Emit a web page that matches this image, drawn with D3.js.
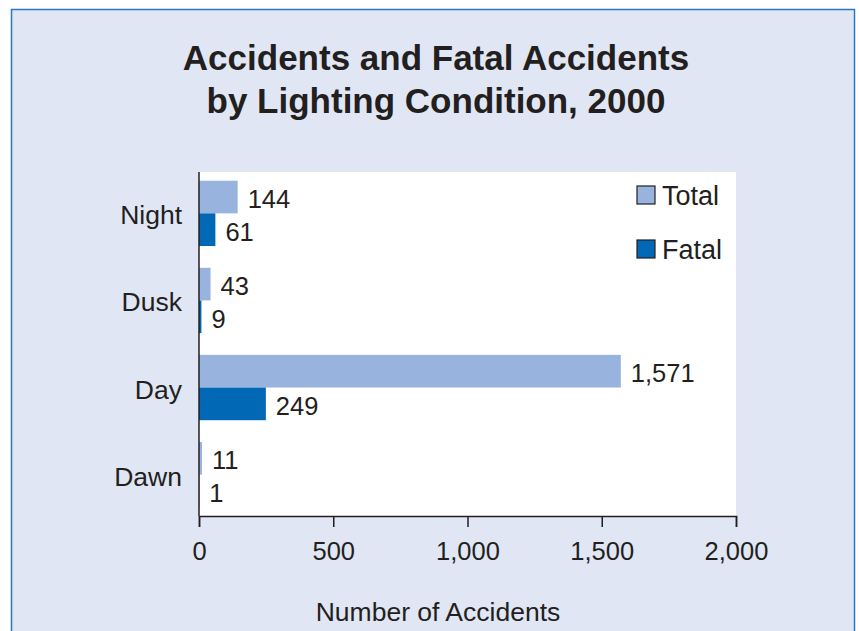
<!DOCTYPE html>
<html>
<head>
<meta charset="utf-8">
<script src="https://cdn.jsdelivr.net/npm/d3@7"></script>
<style>
  body { margin: 0; background: #fff; }
  text { font-family: "Liberation Sans", Arial, sans-serif; fill: #231f20; }
</style>
</head>
<body>
<div id="chart"></div>
<script>
// data
const categories = ["Night", "Dusk", "Day", "Dawn"];
const totalValues = [144, 43, 1571, 11];
const fatalValues = [61, 9, 249, 1];
const seriesNames = ["Total", "Fatal"];
const xTicks = [0, 500, 1000, 1500, 2000];

const width = 859,
  height = 631,
  margin = { top: 172, bottom: 115, left: 199, right: 123 },
  colors = { Total: "#98b3de", Fatal: "#0068b5" };

const svg = d3.select("#chart")
  .append("svg")
  .attr("width", width)
  .attr("height", height);

// background panel
svg.append("rect")
  .attr("x", 11.5)
  .attr("y", 9.5)
  .attr("width", 843)
  .attr("height", 640)
  .attr("fill", "#e1e6f4")
  .attr("stroke", "#2a78c0")
  .attr("stroke-width", 1.5);

// title
svg.append("text")
  .attr("x", 436)
  .attr("y", 70)
  .attr("text-anchor", "middle")
  .attr("font-weight", "bold")
  .attr("font-size", 35)
  .text("Accidents and Fatal Accidents");
svg.append("text")
  .attr("x", 436)
  .attr("y", 113)
  .attr("text-anchor", "middle")
  .attr("font-weight", "bold")
  .attr("font-size", 35)
  .text("by Lighting Condition, 2000");

// plot area
svg.append("rect")
  .attr("x", margin.left)
  .attr("y", margin.top)
  .attr("width", width - margin.left - margin.right)
  .attr("height", height - margin.top - margin.bottom)
  .attr("fill", "#fff");

const xScale = d3.scaleLinear()
  .domain([0, 2000])
  .range([margin.left, width - margin.right]);

const yScale = d3.scaleBand()
  .domain(categories)
  .range([margin.top, height - margin.bottom])
  .paddingInner(0.25)
  .paddingOuter(0.1);

const subScale = d3.scaleBand()
  .domain(seriesNames)
  .range([0, yScale.bandwidth()]);

const data = categories.map((c, i) => ({
  cat: c,
  values: [
    { key: "Total", value: totalValues[i] },
    { key: "Fatal", value: fatalValues[i] }
  ]
}));

const groups = svg.selectAll("g.group")
  .data(data)
  .join("g")
  .attr("class", "group")
  .attr("transform", d => `translate(0,${yScale(d.cat)})`);

groups.selectAll("rect")
  .data(d => d.values)
  .join("rect")
  .attr("x", xScale(0))
  .attr("y", d => subScale(d.key))
  .attr("width", d => xScale(d.value) - xScale(0))
  .attr("height", subScale.bandwidth())
  .attr("fill", d => colors[d.key]);

groups.selectAll("text.val")
  .data(d => d.values)
  .join("text")
  .attr("class", "val")
  .attr("x", d => xScale(d.value) + 10)
  .attr("y", d => subScale(d.key) + subScale.bandwidth() / 2 + 11)
  .attr("font-size", 25.5)
  .text(d => d3.format(",")(d.value));

// category labels
svg.selectAll("text.cat")
  .data(categories)
  .join("text")
  .attr("class", "cat")
  .attr("x", margin.left - 17)
  .attr("y", d => yScale(d) + yScale.bandwidth() / 2 + 11)
  .attr("text-anchor", "end")
  .attr("font-size", 26.5)
  .text(d => d);

// axes
const xAxis = d3.axisBottom(xScale)
  .tickValues(xTicks)
  .tickSize(11)
  .tickFormat(d3.format(","));

const gx = svg.append("g")
  .attr("class", "axis x-axis")
  .attr("transform", `translate(0,${height - margin.bottom})`)
  .call(xAxis);
gx.select(".domain").attr("stroke", "#231f20").attr("stroke-width", 1.5);
gx.selectAll(".tick line").attr("stroke", "#231f20").attr("stroke-width", 1.5);
gx.selectAll(".tick text")
  .attr("font-size", 25.5)
  .attr("font-family", "Liberation Sans, Arial, sans-serif")
  .attr("fill", "#231f20")
  .attr("y", 26)
  .attr("dy", "0.71em");

svg.append("line")
  .attr("x1", xScale(0))
  .attr("x2", xScale(0))
  .attr("y1", margin.top)
  .attr("y2", height - margin.bottom)
  .attr("stroke", "#231f20")
  .attr("stroke-width", 1.5);

// axis title
svg.append("text")
  .attr("x", 438)
  .attr("y", 621)
  .attr("text-anchor", "middle")
  .attr("font-size", 26.5)
  .text("Number of Accidents");

// legend
const legend = svg.selectAll("g.legend")
  .data(seriesNames)
  .join("g")
  .attr("class", "legend")
  .attr("transform", (d, i) => `translate(637,${186 + i * 54})`);
legend.append("rect")
  .attr("width", 18)
  .attr("height", 18)
  .attr("fill", d => colors[d])
  .attr("stroke", "#231f20")
  .attr("stroke-width", 1.2);
legend.append("text")
  .attr("x", 25)
  .attr("y", 19)
  .attr("font-size", 27)
  .text(d => d);
</script>
</body>
</html>
